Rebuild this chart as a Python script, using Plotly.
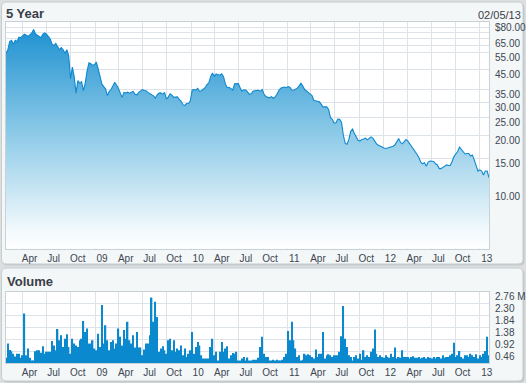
import math
import pandas as pd
import plotly.graph_objects as go

# ---------------- data ----------------
start_date = "2008-01-29"
n_weeks = 263
dates = pd.date_range(start_date, periods=n_weeks, freq="7D")

price = [
    54.5, 57, 63, 64, 61, 64, 63, 66.5, 66, 67.5,
    69, 68, 67, 68.5, 70, 73, 69, 68, 67, 66,
    69, 70, 69, 67, 65, 61, 60, 61.5, 59, 57,
    58.5, 57, 54.5, 57, 53, 40, 46, 41, 33.5, 39,
    37.8, 38.5, 34.5, 38, 44, 48.5, 48, 47, 47.5, 49,
    45, 41.5, 37.5, 36.3, 35.3, 32.5, 34.2, 35, 36.8, 38.3,
    36.9, 35.5, 33.5, 31.8, 33.8, 33.5, 33.9, 33.4, 33.9, 34.2,
    33.0, 32.8, 33.8, 34.3, 35.0, 34.6, 34.5, 33.8, 33.3, 33.0,
    32.4, 31.5, 32.8, 33.5, 33.6, 33.0, 33.8, 31.1, 31.9, 33.2,
    32.7, 31.8, 31.9, 32.0, 31.0, 30.3, 29.0, 28.8, 29.5, 29.6,
    30.5, 34.8, 35.0, 34.8, 35.5, 34.2, 34.5, 35.0, 35.8, 37.2,
    38.0, 41.0, 42.8, 41.2, 42.4, 42.0, 41.7, 42.4, 41, 37.5,
    35.8, 36.0, 35.2, 34.8, 37.5, 37.5, 37.6, 35.8, 34.3, 34.9,
    34.8, 34.0, 33.0, 33.2, 34.3, 34.5, 34.6, 34.7, 34.2, 35.0,
    33.0, 32.1, 31.8, 31.7, 32.1, 31.4, 32.0, 33.0, 34.6, 35.6,
    35.9, 36.1, 35.8, 36.3, 36.0, 34.8, 34.7, 35.1, 35.6, 36.6,
    37.8, 36.5, 35.0, 34.4, 33.8, 33.3, 32.5, 30.6, 30.3, 30.3,
    30.1, 29.2, 28.3, 28.3, 28.3, 27.4, 24.8, 24.3, 23.2, 23.3,
    24.4, 24.3, 23.4, 20.0, 18.1, 17.9, 19.0, 21.0, 21.6, 20.4,
    19.4, 18.8, 18.6, 19.0, 19.1, 19.3, 18.9, 19.2, 19.6, 19.3,
    18.6, 18.0, 17.7, 17.4, 17.3, 17.1, 17.0, 17.1, 17.2, 17.3,
    17.5, 17.8, 18.4, 19.2, 18.3, 18.0, 18.5, 19.0, 18.6, 18.0,
    17.7, 17.1, 16.5, 15.8, 15.2, 14.4, 14.1, 14.3, 13.7, 14.4,
    14.6, 14.6, 14.5, 14.1, 13.9, 13.3, 13.3, 13.5, 13.7, 13.9,
    13.8, 13.8, 14.5, 15.4, 15.9, 16.4, 17.3, 16.8, 16.5, 15.9,
    16.0, 16.0, 15.5, 15.7, 14.8, 13.7, 12.9, 13.1, 12.9, 12.3,
    12.9, 12.9, 11.9,
]

volume_m = [
    0.2, 0.75, 0.5, 0.45, 0.36, 0.25, 0.36, 0.36, 0.2, 0.3,
    1.91, 0.3, 0.56, 0.2, 0.1, 0.1, 0.45, 0.49, 0.49, 0.4,
    0.65, 0.36, 0.43, 0.43, 0.43, 0.85, 0.68, 0.49, 1.31, 0.88,
    1.07, 0.62, 0.94, 1.11, 0.62, 0.36, 0.94, 0.75, 0.68, 0.62,
    0.88, 0.94, 1.62, 1.2, 1.33, 0.75, 0.75, 0.88, 0.56, 0.49,
    1.13, 0.62, 2.24, 0.75, 1.46, 0.88, 0.49, 0.81, 0.88, 0.56,
    0.75, 1.33, 1.01, 0.68, 1.27, 0.94, 1.59, 0.88, 0.75, 1.07,
    0.6, 1.2, 0.6, 0.6, 0.3, 0.52, 0.75, 0.75, 1.07, 2.53,
    1.59, 2.36, 1.78, 0.43, 0.56, 0.65, 0.49, 0.36, 0.88, 0.94,
    0.49, 0.88, 0.43, 0.56, 0.49, 0.68, 0.3, 0.56, 0.23, 0.36,
    0.49, 1.2, 0.36, 0.62, 0.81, 0.68, 0.3, 0.17, 0.17, 0.17,
    0.17, 0.62, 0.94, 0.3, 0.43, 0.1, 0.43, 0.81, 0.43, 0.56,
    0.65, 0.17, 0.3, 0.39, 0.36, 0.43, 0.1, 0.1, 0.17, 0.23,
    0.1, 0.21, 0.1, 0.1, 0.13, 0.13, 0.13, 0.2, 0.62, 1.01,
    0.36, 0.23, 0.23, 0.1, 0.1, 0.13, 0.1, 0.13, 0.1, 0.1,
    0.13, 0.23, 0.36, 1.24, 0.88, 1.59, 0.88, 0.56, 0.23, 0.3,
    0.1, 0.13, 0.36, 0.3, 0.34, 0.3, 0.23, 0.17, 0.52, 0.23,
    0.36, 0.36, 1.2, 0.17, 0.3, 0.34, 0.3, 0.23, 0.3, 0.3,
    0.3, 0.43, 1.03, 2.2, 0.94, 0.62, 0.3, 0.23, 0.1, 0.23,
    0.3, 0.17, 0.36, 0.13, 0.49, 0.23, 0.3, 0.23, 0.43, 0.56,
    1.29, 0.36, 0.23, 0.3, 0.23, 0.2, 0.3, 0.23, 0.2, 0.36,
    0.23, 0.6, 0.17, 0.23, 0.2, 0.49, 0.23, 0.23, 0.23, 0.17,
    0.23, 0.26, 0.2, 0.2, 0.23, 0.17, 0.2, 0.23, 0.17, 0.23,
    0.2, 0.17, 0.23, 0.17, 0.23, 0.23, 0.17, 0.3, 0.2, 0.23,
    0.23, 0.3, 0.36, 0.78, 0.23, 0.3, 0.46, 0.23, 0.17, 0.3,
    0.3, 0.23, 0.36, 0.3, 0.23, 0.34, 0.17, 0.3, 0.23, 0.36,
    0.46, 1.01, 0.3,
]

quarter_dates = pd.date_range("2008-04-01", "2013-01-01", freq="QS")
quarter_labels = ["Apr", "Jul", "Oct", "09", "Apr", "Jul", "Oct", "10",
                  "Apr", "Jul", "Oct", "11", "Apr", "Jul", "Oct", "12",
                  "Apr", "Jul", "Oct", "13"]

price_grid = [10, 15, 20, 25, 30, 35, 45, 55, 60, 65, 70, 75, 80]
price_labels = ["10.00", "15.00", "20.00", "25.00", "30.00", "35.00", "45.00",
                "55.00", "", "65.00", "", "", "$80.00"]

vol_grid = [0.46, 0.92, 1.38, 1.84, 2.30, 2.76]
vol_labels = ["0.46", "0.92", "1.38", "1.84", "2.30", "2.76 M"]

title_text = "5 Year"
date_text = "02/05/13"
volume_title = "Volume"

# ---------------- layout geometry ----------------
W, H = 526, 383
ML, MR, MT, MB = 6, 37, 22, 20
PW = W - ML - MR
PH = H - MT - MB


def px(xp):
    return (xp - ML) / PW


def py(yp):
    return (H - MB - yp) / PH


def rounded(x0, y0, x1, y1, r):
    pts = []
    pts.append(f"M{px(x0 + r)},{py(y0)}")
    pts.append(f"L{px(x1 - r)},{py(y0)}")
    pts.append(f"Q{px(x1)},{py(y0)} {px(x1)},{py(y0 + r)}")
    pts.append(f"L{px(x1)},{py(y1 - r)}")
    pts.append(f"Q{px(x1)},{py(y1)} {px(x1 - r)},{py(y1)}")
    pts.append(f"L{px(x0 + r)},{py(y1)}")
    pts.append(f"Q{px(x0)},{py(y1)} {px(x0)},{py(y1 - r)}")
    pts.append(f"L{px(x0)},{py(y0 + r)}")
    pts.append(f"Q{px(x0)},{py(y0)} {px(x0 + r)},{py(y0)}")
    return " ".join(pts) + " Z"


FONT = "Liberation Sans, Arial, sans-serif"
GRID = "#dde3e8"
FRAME = "#c9d1d7"
TXT = "#3d4652"
LINE_BLUE = "#0f88cf"
BAR_BLUE = "#0b89cf"

fig = go.Figure()

fig.add_trace(go.Scatter(
    x=dates, y=price, mode="lines", fill="tozeroy",
    line=dict(color=LINE_BLUE, width=1.1),
    fillgradient=dict(type="vertical", start=5, stop=80,
                      colorscale=[[0, "#ffffff"], [0.08, "#f2f9fc"],
                                  [0.5, "#8fcbe8"], [1, "#188ecf"]]),
    xaxis="x", yaxis="y", showlegend=False, hoverinfo="skip",
))

fig.add_trace(go.Bar(
    x=dates, y=volume_m, marker=dict(color=BAR_BLUE, line=dict(width=0)),
    xaxis="x2", yaxis="y2", showlegend=False, hoverinfo="skip",
))

x_range = ["2008-01-29", "2013-02-05"]
axis_common = dict(
    showgrid=True, gridcolor=GRID, gridwidth=1,
    showline=True, mirror=True, linecolor=FRAME, linewidth=1,
    zeroline=False, ticks="", automargin=False,
    tickfont=dict(family=FONT, size=10, color=TXT),
)

fig.update_layout(
    width=W, height=H,
    margin=dict(l=ML, r=MR, t=MT, b=MB, autoexpand=False),
    paper_bgcolor="#dcdedf",
    plot_bgcolor="#ffffff",
    bargap=0.25,
    xaxis=dict(domain=[0, 1], anchor="y", type="date", range=x_range,
               tickvals=quarter_dates, ticktext=quarter_labels,
               ticklabelshift=7, ticklabelstandoff=0, **axis_common),
    xaxis2=dict(domain=[0, 1], anchor="y2", type="date", range=x_range,
                tickvals=quarter_dates, ticktext=quarter_labels,
                ticklabelshift=7, ticklabelstandoff=0, **axis_common),
    yaxis=dict(domain=[py(248.5), 1], anchor="x", type="log", side="right",
               range=[math.log10(5), math.log10(80)],
               tickvals=price_grid, ticktext=price_labels,
               ticklabelshift=5, ticklabelstandoff=3, **axis_common),
    yaxis2=dict(domain=[0, py(291.5)], anchor="x2", side="right",
                range=[0, 2.76],
                tickvals=vol_grid, ticktext=vol_labels,
                ticklabelshift=5, ticklabelstandoff=3, **axis_common),
)

shapes = []
# panels with a soft shadow
for (y0, y1) in [(2, 264), (268, 381)]:
    shapes.append(dict(type="path", xref="paper", yref="paper",
                       path=rounded(2.5, y0 + 1.5, 524.5, y1 + 1.5, 5),
                       fillcolor="#c4c8ca", line=dict(width=0), layer="below"))
    shapes.append(dict(type="path", xref="paper", yref="paper",
                       path=rounded(1.5, y0, 523, y1, 5),
                       fillcolor="#f3f7f7", line=dict(color="#c5cdcf", width=1),
                       layer="below"))
# white plot areas
for xr, yr in [("x domain", "y domain"), ("x2 domain", "y2 domain")]:
    shapes.append(dict(type="rect", xref=xr, yref=yr, x0=0, x1=1, y0=0, y1=1,
                       fillcolor="#ffffff", line=dict(width=0), layer="below"))
fig.update_layout(shapes=shapes)

fig.update_layout(annotations=[
    dict(text=f"<b>{title_text}</b>", xref="paper", yref="paper",
         x=px(4), y=py(13.5), xanchor="left", yanchor="middle", showarrow=False,
         font=dict(family=FONT, size=13, color="#3a3e48")),
    dict(text=date_text, xref="paper", yref="paper",
         x=px(523), y=py(15.3), xanchor="right", yanchor="middle", showarrow=False,
         font=dict(family=FONT, size=11, color="#3a3e48")),
    dict(text=f"<b>{volume_title}</b>", xref="paper", yref="paper",
         x=px(4.5), y=py(281), xanchor="left", yanchor="middle", showarrow=False,
         font=dict(family=FONT, size=13, color="#3a3e48")),
])

fig.write_html(
    "out.html",
    config={"displayModeBar": False},
    post_script="document.body.style.margin='0';document.body.style.overflow='hidden';",
)
